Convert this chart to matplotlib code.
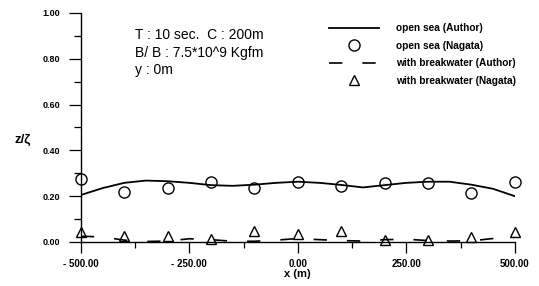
import matplotlib
matplotlib.use("Agg")
import matplotlib.pyplot as plt
from matplotlib.ticker import MultipleLocator

plt.rcParams['font.family'] = ['Liberation Sans', 'DejaVu Sans']

# Data
x_line = [-500, -450, -400, -350, -300, -250, -200, -150, -100, -50, 0,
          50, 100, 150, 200, 250, 300, 350, 400, 450, 500]
open_author = [0.205, 0.235, 0.258, 0.268, 0.265, 0.258, 0.248, 0.245, 0.25, 0.258, 0.263,
               0.258, 0.249, 0.238, 0.248, 0.258, 0.263, 0.263, 0.25, 0.232, 0.2]
bw_author = [0.025, 0.022, 0.008, 0.002, 0.004, 0.014, 0.01, 0.003, 0.003, 0.008, 0.015,
             0.01, 0.006, 0.004, 0.01, 0.012, 0.006, 0.004, 0.005, 0.015, 0.02]
x_pts = [-500, -400, -300, -200, -100, 0, 100, 200, 300, 400, 500]
open_nagata = [0.275, 0.22, 0.235, 0.26, 0.235, 0.26, 0.245, 0.258, 0.258, 0.214, 0.26]
bw_nagata = [0.045, 0.025, 0.025, 0.015, 0.05, 0.035, 0.05, 0.01, 0.01, 0.02, 0.045]

xticks = [-500, -250, 0, 250, 500]
xticklabels = ['- 500.00', '- 250.00', '0.00', '250.00', '500.00']
yticks = [0.0, 0.2, 0.4, 0.6, 0.8, 1.0]
yticklabels = ['0.00', '0.20', '0.40', '0.60', '0.80', '1.00']

fig = plt.figure(figsize=(5.39, 2.86), dpi=100)
ax = fig.add_axes([0.150, 0.154, 0.805, 0.801])

ax.plot(x_line, open_author, color='black', lw=1.3, label='open sea (Author)')
ax.plot(x_pts, open_nagata, linestyle='none', marker='o', markersize=8,
        markerfacecolor='none', markeredgecolor='black', markeredgewidth=1.0,
        label='open sea (Nagata)', clip_on=False)
ax.plot(x_line, bw_author, color='black', lw=1.2, dashes=(8, 12),
        label='with breakwater (Author)')
ax.plot(x_pts, bw_nagata, linestyle='none', marker='^', markersize=6.5,
        markerfacecolor='none', markeredgecolor='black', markeredgewidth=1.0,
        label='with breakwater (Nagata)', clip_on=False)

ax.set_xlim(-500, 500)
ax.set_ylim(0, 1.0)
for s in ['top', 'right']:
    ax.spines[s].set_visible(False)
ax.spines['left'].set_linewidth(1.0)
ax.spines['bottom'].set_linewidth(1.0)

ax.set_xticks(xticks)
ax.set_xticklabels(xticklabels, fontsize=7, fontweight='bold')
ax.set_yticks(yticks)
ax.set_yticklabels(yticklabels, fontsize=6.5, fontweight='bold')
ax.xaxis.set_minor_locator(MultipleLocator(125))
ax.yaxis.set_minor_locator(MultipleLocator(0.1))
ax.tick_params(axis='y', which='major', direction='out', length=9, width=0.9, pad=6)
ax.tick_params(axis='y', which='minor', direction='out', length=5, width=0.9)
ax.tick_params(axis='x', which='major', direction='out', length=8, width=0.9, pad=4)
ax.tick_params(axis='x', which='minor', direction='out', length=4, width=0.9)

ax.set_xlabel('x (m)', fontsize=8, fontweight='bold', labelpad=0)
fig.text(0.026, 0.51, 'z/ζ', fontsize=9.5, fontweight='bold', ha='left', va='center')

fig.text(0.250, 0.878, 'T : 10 sec.  C : 200m', fontsize=10, ha='left', va='center')
fig.text(0.250, 0.816, 'B/ B : 7.5*10^9 Kgfm', fontsize=10, ha='left', va='center')
fig.text(0.250, 0.755, 'y : 0m', fontsize=10, ha='left', va='center')

leg = ax.legend(loc='upper left', bbox_to_anchor=(0.55, 0.995), frameon=False,
                handlelength=5.0, labelspacing=0.75,
                handletextpad=1.6, prop={'weight': 'bold', 'size': 7.3})

fig.savefig('out.png', dpi=100)
